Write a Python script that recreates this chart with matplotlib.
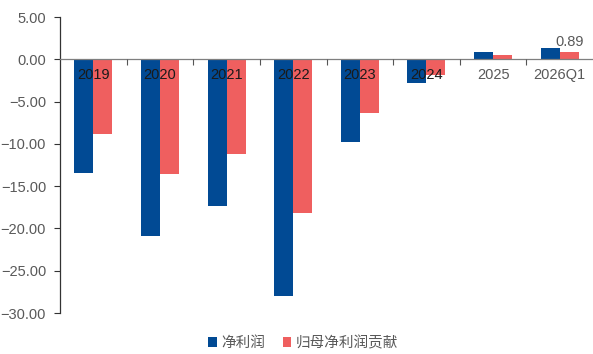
import matplotlib
matplotlib.use("Agg")
import matplotlib.pyplot as plt
import numpy as np

plt.rcParams['font.family'] = ['Liberation Sans', 'Noto Sans CJK SC', 'DejaVu Sans']

categories = ["2019", "2020", "2021", "2022", "2023", "2024", "2025", "2026Q1"]
net_profit = [-13.4, -20.9, -17.3, -28.0, -9.8, -2.8, 0.9, 1.3]
parent_contrib = [-8.8, -13.6, -11.2, -18.2, -6.3, -1.9, 0.5, 0.89]
series_names = ["净利润", "归母净利润贡献"]
yticks = [5, 0, -5, -10, -15, -20, -25, -30]

blue = "#014A94"
red = "#EF5F5F"
text_col = "#595959"

fig = plt.figure(figsize=(5.93, 3.54), dpi=100)
ax = fig.add_axes([60 / 593, 41 / 354, 533 / 593, 296 / 354])

x = np.arange(len(categories))
w = 0.285
ax.bar(x - w / 2, net_profit, w, color=blue, label=series_names[0], zorder=0.5)
ax.bar(x + w / 2, parent_contrib, w, color=red, label=series_names[1], zorder=0.5)

# value label on the latest period
last = len(categories) - 1
ax.annotate(f"{parent_contrib[last]:.2f}", (x[last] + w / 2, parent_contrib[last]),
            xytext=(0, 2), textcoords="offset points", ha="center", va="bottom",
            fontsize=10.5, color=text_col)

ax.set_xlim(-0.5, len(categories) - 0.5)
ax.set_ylim(-30, 5)
ax.set_yticks(yticks)
ax.set_yticklabels([f"{v:.2f}".replace("-", "\u2212") for v in yticks],
                   fontsize=10.5, color=text_col)
ax.tick_params(axis="y", direction="out", length=4, color="#333333", width=0.8, pad=6)

ax.spines['top'].set_visible(False)
ax.spines['right'].set_visible(False)
ax.spines['left'].set_color("#333333")
ax.spines['left'].set_linewidth(0.9)
ax.spines['bottom'].set_position(('data', 0))
ax.spines['bottom'].set_color("#7f7f7f")
ax.spines['bottom'].set_linewidth(0.9)

# boundary ticks between categories, labels centred on each category
ax.set_xticks(np.arange(0.5, len(categories) - 0.5, 1.0))
ax.set_xticklabels([])
ax.tick_params(axis="x", which="major", direction="out", length=4, color="#555555", width=0.8)
ax.set_xticks(x, minor=True)
ax.set_xticklabels(categories, minor=True, fontsize=10.5)
ax.tick_params(axis="x", which="minor", length=0, pad=6)
for lbl, v in zip(ax.get_xticklabels(minor=True), np.minimum(net_profit, parent_contrib)):
    lbl.set_color("#1a1a1a" if v < 0 else text_col)
ax.xaxis.set_zorder(5)

handles, labels = ax.get_legend_handles_labels()
fig.legend(handles, labels, loc="center", bbox_to_anchor=(303 / 593, 1 - 343 / 354),
           ncol=2, frameon=False, fontsize=10.5, handlelength=0.6, handleheight=0.6,
           handletextpad=0.3, columnspacing=1.2, labelcolor=text_col)

fig.savefig("out.png", dpi=100)
